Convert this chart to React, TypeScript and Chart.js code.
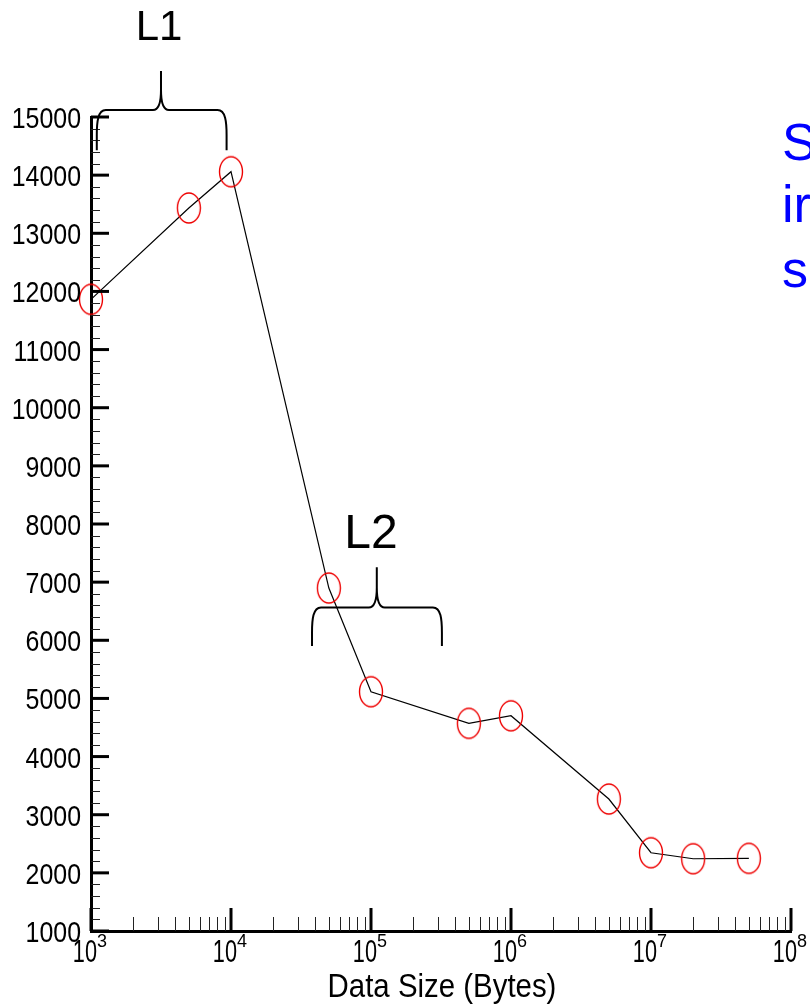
import React, { useEffect, useRef } from "react";
import { Chart, registerables } from "chart.js";

Chart.register(...registerables);

// ---- data ----
const dataSizes = [1e3, 5e3, 1e4, 5e4, 1e5, 5e5, 1e6, 5e6, 1e7, 2e7, 5e7];
const throughput = [11864, 13435, 14059, 6899, 5115, 4572, 4702, 3270, 2346, 2243, 2250];
const yMajorTicks = [1000, 2000, 3000, 4000, 5000, 6000, 7000, 8000, 9000, 10000, 11000, 12000, 13000, 14000, 15000];
const yMinorStep = 200;
const xDecadeExponents = [3, 4, 5, 6, 7, 8];
const xMinorMultipliers = [2, 3, 4, 5, 6, 7, 8, 9];
const xTitle = "Data Size (Bytes)";
const sideTextLines = ["S", "ir", "s"];
const braceLabels = ["L1", "L2"];
const braceLeft = [1.1e3, 3.79e4];
const braceRight = [9.3e3, 3.21e5];
const braceCenter = [3162, 1.1e5];
const braceBottom = [14430, 5900];
const braceMid = [15120, 6566];
const braceTop = [15790, 7255];
const braceLabelY = [16324, 7587];
const braceLabelX = [3060, 1.0e5];
const braceFontSize = [42, 48];

const FONT = "'Liberation Sans', Arial, Helvetica, sans-serif";

function makeEllipse(): HTMLCanvasElement {
  const c = document.createElement("canvas");
  c.width = 26;
  c.height = 34;
  const g = c.getContext("2d")!;
  g.strokeStyle = "#ee0000";
  g.lineWidth = 1.4;
  g.beginPath();
  g.ellipse(13, 17, 11.5, 15, 0, 0, Math.PI * 2);
  g.stroke();
  return c;
}

function drawBrace(ctx: CanvasRenderingContext2D, xl: number, xr: number, cx: number, yb: number, yh: number, yt: number) {
  ctx.beginPath();
  ctx.moveTo(xl, yb);
  ctx.lineTo(xl, yh + 25);
  ctx.bezierCurveTo(xl, yh + 12, xl + 1, yh, xl + 9, yh);
  ctx.lineTo(cx - 8, yh);
  ctx.bezierCurveTo(cx - 2, yh, cx, yh - 8, cx, yh - 20);
  ctx.lineTo(cx, yt);
  ctx.moveTo(cx, yh - 20);
  ctx.bezierCurveTo(cx, yh - 8, cx + 2, yh, cx + 8, yh);
  ctx.lineTo(xr - 9, yh);
  ctx.bezierCurveTo(xr - 1, yh, xr, yh + 12, xr, yh + 25);
  ctx.lineTo(xr, yb);
  ctx.stroke();
}

const axesPlugin = {
  id: "customAxes",
  afterDraw(chart: any) {
    const ctx: CanvasRenderingContext2D = chart.ctx;
    const xs = chart.scales.x;
    const ys = chart.scales.y;
    const area = chart.chartArea;
    const left = area.left;
    const bottom = area.bottom;
    ctx.save();

    // y minor ticks
    ctx.strokeStyle = "#222";
    ctx.lineWidth = 1;
    for (let v = yMajorTicks[0]; v <= yMajorTicks[yMajorTicks.length - 1]; v += yMinorStep) {
      if (v % 1000 === 0) continue;
      const y = Math.round(ys.getPixelForValue(v)) + 0.5;
      ctx.beginPath();
      ctx.moveTo(left, y);
      ctx.lineTo(left + 9, y);
      ctx.stroke();
    }
    // y major ticks + labels
    ctx.strokeStyle = "#000";
    ctx.lineWidth = 3;
    ctx.fillStyle = "#000";
    ctx.font = `30px ${FONT}`;
    ctx.textAlign = "right";
    ctx.textBaseline = "alphabetic";
    for (const v of yMajorTicks) {
      const y = ys.getPixelForValue(v);
      ctx.beginPath();
      ctx.moveTo(left, y);
      ctx.lineTo(left + 18, y);
      ctx.stroke();
      ctx.save();
      ctx.translate(left - 10, y + 11);
      ctx.scale(0.83, 1);
      ctx.fillText(String(v), 0, 0);
      ctx.restore();
    }

    // x minor ticks
    ctx.strokeStyle = "#222";
    ctx.lineWidth = 1;
    for (let i = 0; i < xDecadeExponents.length - 1; i++) {
      for (const m of xMinorMultipliers) {
        const x = Math.round(xs.getPixelForValue(m * Math.pow(10, xDecadeExponents[i]))) + 0.5;
        ctx.beginPath();
        ctx.moveTo(x, bottom);
        ctx.lineTo(x, bottom - 14);
        ctx.stroke();
      }
    }
    // x major ticks + labels
    ctx.strokeStyle = "#000";
    ctx.lineWidth = 3;
    for (const e of xDecadeExponents) {
      const x = xs.getPixelForValue(Math.pow(10, e));
      ctx.beginPath();
      ctx.moveTo(x, bottom);
      ctx.lineTo(x, bottom - 23);
      ctx.stroke();
      ctx.save();
      ctx.translate(x + 6, bottom + 31);
      ctx.scale(0.7, 1);
      ctx.font = `31px ${FONT}`;
      ctx.textAlign = "right";
      ctx.fillText("10", 0, 0);
      ctx.restore();
      ctx.font = `18px ${FONT}`;
      ctx.textAlign = "left";
      ctx.fillText(String(e), x + 6, bottom + 16);
    }

    // x title
    ctx.save();
    ctx.translate((area.left + area.right) / 2 + 1, bottom + 66);
    ctx.scale(0.865, 1);
    ctx.font = `34px ${FONT}`;
    ctx.textAlign = "center";
    ctx.fillText(xTitle, 0, 0);
    ctx.restore();

    // braces
    ctx.strokeStyle = "#000";
    ctx.lineWidth = 2;
    for (let i = 0; i < braceLabels.length; i++) {
      drawBrace(
        ctx,
        xs.getPixelForValue(braceLeft[i]),
        xs.getPixelForValue(braceRight[i]),
        xs.getPixelForValue(braceCenter[i]),
        ys.getPixelForValue(braceBottom[i]),
        ys.getPixelForValue(braceMid[i]),
        ys.getPixelForValue(braceTop[i])
      );
      ctx.font = `${braceFontSize[i]}px ${FONT}`;
      ctx.textAlign = "center";
      ctx.fillStyle = "#000";
      ctx.fillText(braceLabels[i], xs.getPixelForValue(braceLabelX[i]), ys.getPixelForValue(braceLabelY[i]));
    }

    // blue side text (clipped by canvas edge)
    ctx.fillStyle = "#0000ff";
    ctx.font = `52px ${FONT}`;
    ctx.textAlign = "left";
    const baselines = [160, 222, 287];
    sideTextLines.forEach((t, i) => ctx.fillText(t, 782, baselines[i]));

    ctx.restore();
  },
};

export default function App() {
  const ref = useRef<HTMLCanvasElement>(null);
  useEffect(() => {
    if (!ref.current) return;
    const ellipse = makeEllipse();
    const chart = new Chart(ref.current, {
      type: "scatter",
      data: {
        datasets: [
          {
            data: dataSizes.map((x, i) => ({ x, y: throughput[i] })),
            showLine: true,
            borderColor: "#000",
            borderWidth: 1.2,
            pointStyle: ellipse as any,
            pointRadius: 12,
            clip: false as any,
          },
        ],
      },
      options: {
        animation: false,
        responsive: false,
        devicePixelRatio: 1,
        layout: { padding: { top: 117, right: 19, left: 0, bottom: 0 } },
        plugins: { legend: { display: false }, tooltip: { enabled: false } },
        scales: {
          x: {
            type: "logarithmic",
            min: 1e3,
            max: 1e8,
            ticks: { display: false },
            grid: { display: false },
            border: { display: true, color: "#000", width: 3 },
            afterFit: (s: any) => {
              s.height = 76;
            },
          },
          y: {
            type: "linear",
            min: 1000,
            max: 15000,
            ticks: { display: false },
            grid: { display: false },
            border: { display: true, color: "#000", width: 3 },
            afterFit: (s: any) => {
              s.width = 91;
            },
          },
        },
      },
      plugins: [axesPlugin],
    });
    return () => chart.destroy();
  }, []);
  return (
    <div style={{ position: "fixed", left: 0, top: 0, width: 810, height: 1007, background: "#fff" }}>
      <canvas ref={ref} width={810} height={1007} />
    </div>
  );
}
